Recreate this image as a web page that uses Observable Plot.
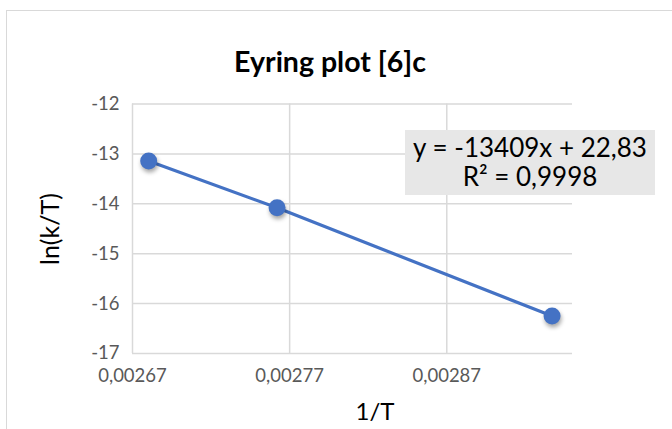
<!DOCTYPE html>
<html><head><meta charset="utf-8">
<script src="https://cdn.jsdelivr.net/npm/d3@7"></script>
<script src="https://cdn.jsdelivr.net/npm/@observablehq/plot@0.6"></script>
<style>
body{margin:0;background:#fff;}
#wrap{position:relative;width:672px;height:429px;overflow:hidden;font-family:Lato,"Open Sans",sans-serif;}
#frame{position:absolute;left:6px;top:10px;width:720px;height:500px;border:1px solid #d9d9d9;}
#title{position:absolute;left:0;width:660px;top:44px;text-align:center;font-size:28.5px;font-weight:bold;color:#000;line-height:34px;}
#eq{position:absolute;left:405px;top:130px;width:250px;height:65px;background:#e7e7e7;text-align:center;font-size:26px;line-height:29px;color:#000;padding-top:3px;box-sizing:border-box;}
#ylab{position:absolute;left:49px;top:229px;transform:translate(-50%,-50%) rotate(-90deg);font-size:25px;color:#000;white-space:nowrap;}
#xlab{position:absolute;left:375px;top:410px;transform:translate(-50%,-50%);font-size:24px;color:#000;white-space:nowrap;}
#chart{position:absolute;left:0;top:0;}
svg circle{filter:drop-shadow(1px 3px 2px rgba(0,0,0,0.35));}
</style>
</head><body>
<div id="wrap">
  <div id="frame"></div>
  <div id="chart"></div>
  <div id="title"></div>
  <div id="eq"></div>
  <div id="ylab"></div>
  <div id="xlab"></div>
</div>
<script>
const titleText = "Eyring plot [6]c";
const xLabel = "1/T";
const yLabel = "ln(k/T)";
const eqLines = ["y = -13409x + 22,83", "R² = 0,9998"];
const invT = [0.0026803, 0.0027620, 0.0029370];
const lnkT = [-13.14, -14.08, -16.25];
const xTicks = [0.00267, 0.00277, 0.00287];
const yTicks = [-12, -13, -14, -15, -16, -17];
const xDomain = [0.00267, 0.00295];
const yDomain = [-17, -12];

const data = invT.map((x, i) => ({x, y: lnkT[i]}));
const fmtX = d => d.toFixed(5).replace(".", ",");
const fmtY = d => String(d);

document.getElementById("title").textContent = titleText;
document.getElementById("xlab").textContent = xLabel;
document.getElementById("ylab").textContent = yLabel;
document.getElementById("eq").innerHTML = eqLines.map(s => `<div>${s}</div>`).join("");

const plot = Plot.plot({
  width: 672, height: 429,
  marginLeft: 132, marginRight: 100, marginTop: 103.5, marginBottom: 76,
  x: {domain: xDomain, label: null},
  y: {domain: yDomain, label: null},
  style: {background: "transparent", fontFamily: "Lato, 'Open Sans', sans-serif", fontSize: "18.5px"},
  marks: [
    Plot.gridX(xTicks, {stroke: "#d9d9d9", strokeOpacity: 1, strokeWidth: 1.5}),
    Plot.gridY(yTicks, {stroke: "#d9d9d9", strokeOpacity: 1, strokeWidth: 1.5}),
    Plot.axisX(xTicks, {tickSize: 0, tickPadding: 15, tickFormat: fmtX, fill: "#595959", fontSize: 18.5, label: null}),
    Plot.axisY(yTicks, {tickSize: 0, tickPadding: 13, tickFormat: fmtY, fill: "#595959", fontSize: 18.5, label: null}),
    Plot.line(data, {x: "x", y: "y", stroke: "#4472c4", strokeWidth: 3.2}),
    Plot.dot(data, {x: "x", y: "y", r: 8.5, fill: "#4472c4", stroke: "none"})
  ]
});
document.getElementById("chart").appendChild(plot);
</script>
</body></html>
